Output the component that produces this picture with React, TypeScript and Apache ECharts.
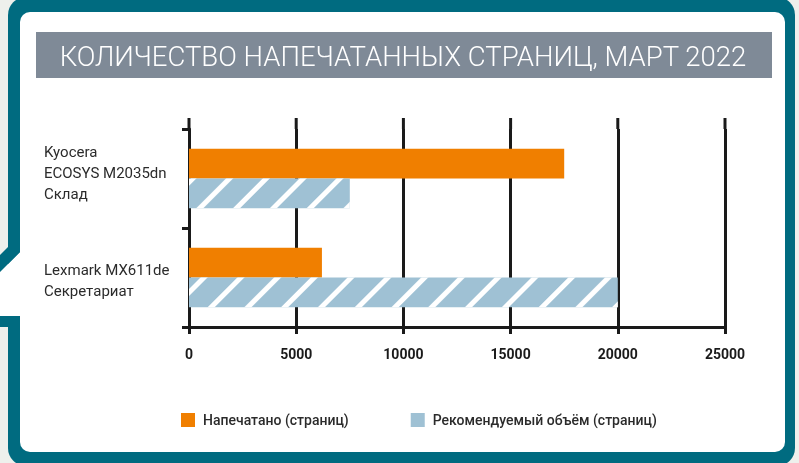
import React, { useEffect, useRef } from "react";
import * as echarts from "echarts";

const titleText = "КОЛИЧЕСТВО НАПЕЧАТАННЫХ СТРАНИЦ, МАРТ 2022";
const categories = ["Kyocera\nECOSYS M2035dn\nСклад", "Lexmark MX611de\nСекретариат"];
const seriesNames = ["Напечатано (страниц)", "Рекомендуемый объём (страниц)"];
const printed = [17500, 6200];
const recommended = [7500, 20000];
const xMin = 0;
const xMax = 25000;
const xInterval = 5000;

const TEAL = "#006b80";
const BG = "#eef0ec";
const ORANGE = "#f07f00";
const BLUE = "#9fc1d4";
const LINE = "#1a1a1a";
const FONT = "Roboto";

export default function App() {
  const ref = useRef<HTMLDivElement>(null);
  useEffect(() => {
    if (!ref.current) return;
    const chart = echarts.init(ref.current, null, { renderer: "svg" });
    const gridTop = 129;
    const frame: any[] = [
      { type: "rect", z: -10, shape: { x: 0, y: 0, width: 799, height: 463 }, style: { fill: BG } },
      { type: "rect", z: -9, shape: { x: 8, y: -3, width: 787, height: 469, r: 18 }, style: { fill: TEAL } },
      { type: "rect", z: -8, shape: { x: 20, y: 12, width: 765, height: 440, r: 10 }, style: { fill: "#fff" } },
      { type: "polygon", z: -7, shape: { points: [[20, 252], [20, 316], [0, 316], [0, 272]] }, style: { fill: "#fff" } },
      { type: "polygon", z: -7, shape: { points: [[8, 240], [20, 240], [20, 252], [0, 272], [0, 255], [8, 247]] }, style: { fill: TEAL } },
      { type: "rect", z: -7, shape: { x: 0, y: 316, width: 20, height: 11 }, style: { fill: TEAL } },
      { type: "rect", z: -6, shape: { x: 36, y: 32, width: 736, height: 46 }, style: { fill: "#7f8a97" } },
      {
        type: "text", z: -5, x: 403, y: 56,
        style: { text: titleText, fill: "#fff", font: `300 27.5px ${FONT}`, align: "center", verticalAlign: "middle" },
      },
    ];
    const option: any = {
      animation: false,
      textStyle: { fontFamily: FONT },
      grid: { left: 189, right: 74, top: gridTop, bottom: 136, containLabel: false },
      legend: {
        left: 176, top: 408, itemWidth: 14, itemHeight: 14, itemGap: 62, icon: "rect",
        textStyle: { fontFamily: FONT, fontSize: 14, fontWeight: 500, color: "#2b2b2b", padding: [0, 0, 0, 3] },
        data: [
          { name: seriesNames[0] },
          { name: seriesNames[1], itemStyle: { decal: "none" } },
        ],
      },
      xAxis: {
        type: "value", min: xMin, max: xMax, interval: xInterval,
        axisLine: { show: true, lineStyle: { color: LINE, width: 3 } },
        axisTick: { show: true, length: 7, lineStyle: { color: LINE, width: 3 } },
        splitLine: { show: true, lineStyle: { color: LINE, width: 3 } },
        axisLabel: {
          color: "#1a1a1a", fontSize: 14, fontWeight: "bold", margin: 20, fontFamily: FONT,
          formatter: (v: number) => String(v),
        },
      },
      yAxis: {
        type: "category", data: categories, inverse: true,
        axisLine: { show: true, lineStyle: { color: LINE, width: 3 } },
        axisTick: { show: true, length: 7, lineStyle: { color: LINE, width: 3 } },
        axisLabel: {
          align: "left", margin: 145, color: "#2b2b2b", fontSize: 15, lineHeight: 21, fontFamily: FONT,
          formatter: (v: string, i: number) => (i === 0 ? `{a|${v}}` : `{b|${v}}`),
          rich: {
            a: { fontSize: 15, lineHeight: 21, color: "#2b2b2b", fontFamily: FONT, padding: [0, 0, 12, 0] },
            b: { fontSize: 15, lineHeight: 21, color: "#2b2b2b", fontFamily: FONT, padding: [6, 0, 0, 0] },
          },
        },
      },
      series: [
        {
          name: seriesNames[0], type: "bar", data: printed, barGap: "0%", barCategoryGap: "40%",
          itemStyle: { color: ORANGE },
        },
        {
          name: seriesNames[1], type: "bar", data: recommended, barGap: "0%", barCategoryGap: "40%",
          itemStyle: {
            color: BLUE,
            decal: { symbol: "rect", color: "#ffffff", dashArrayX: [1, 0], dashArrayY: [5, 21], rotation: -Math.PI / 4, symbolSize: 1 },
          },
        },
      ],
      graphic: frame,
    };
    chart.setOption(option);
    const ext: any[] = [];
    for (let v = xMin; v <= xMax; v += xInterval) {
      const px = chart.convertToPixel({ xAxisIndex: 0 }, v) as number;
      ext.push({ type: "line", z: 5, shape: { x1: px, y1: gridTop - 11, x2: px, y2: gridTop }, style: { stroke: LINE, lineWidth: 3 } });
    }
    chart.setOption({ graphic: [...frame, ...ext] });
    return () => chart.dispose();
  }, []);
  return <div ref={ref} style={{ position: "fixed", left: 0, top: 0, width: 799, height: 463 }} />;
}
